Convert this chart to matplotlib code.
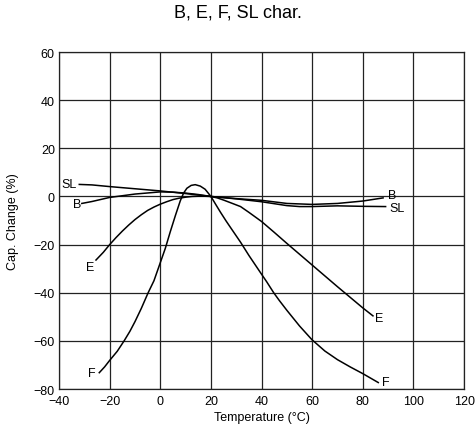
import matplotlib.pyplot as plt

plt.rcParams['font.family'] = ['Liberation Sans', 'DejaVu Sans']

# ── Data ───────────────────────────────────────────────────────────────────
B_X  = [-31, -27, -20, -10, 0, 5, 10, 15, 20, 30, 40, 50, 60, 70, 80, 88]
B_Y  = [-2.9, -2.1, -0.4, 1.0, 1.9, 1.8, 1.4, 0.8, 0, -0.9, -1.6, -2.9, -3.3, -2.9, -1.9, -0.6]

SL_X = [-32, -27, -20, -10, 0, 10, 20, 30, 40, 50, 55, 60, 70, 80, 89]
SL_Y = [5.0, 4.8, 4.1, 3.2, 2.3, 1.2, 0, -1.0, -2.2, -3.8, -4.2, -4.2, -3.9, -4.1, -4.2]

E_X  = [-25.4, -22.5, -20, -17.5, -15, -12.5, -10, -7.5, -5, -2.5, 0, 2.5, 5, 7.5, 10, 12.5, 15,
        17.5, 20, 22.5, 25, 28, 31.7, 35, 40, 45, 50, 55, 60, 65, 70, 75, 80, 84]
E_Y  = [-26.4, -23.2, -20.0, -17.1, -14.4, -11.9, -9.6, -7.6, -5.8, -4.4, -3.2, -2.2, -1.3, -0.7,
        -0.3, 0.0, 0.1, 0.1, 0, -0.6, -1.5, -2.7, -4.2, -6.6, -10.4, -14.9, -19.5, -24.0, -28.5,
        -33.0, -37.5, -41.9, -46.3, -49.6]

F_X  = [-24.1, -22, -20, -17, -14.3, -12, -10, -7.5, -4.8, -2.5, -0.7, 2, 3.9, 6, 7.9, 9.2, 10.5,
        12.2, 13.8, 15.8, 17.7, 20, 22, 23.8, 26, 28, 31.7, 35, 39.8, 42, 44.8, 47, 50, 55, 59.9,
        65, 70, 75, 80, 86.1]
F_Y  = [-73.2, -70.8, -68.1, -64.3, -60.0, -56.0, -52.0, -46.5, -40.0, -35.0, -29.6, -21.5, -14.8,
        -7.8, -1.8, 1.4, 3.4, 4.6, 4.9, 4.3, 3.0, 0, -3.5, -6.6, -10.2, -13.3, -19.0, -24.5, -32.0,
        -35.4, -40.0, -43.2, -47.3, -53.8, -59.5, -64.2, -67.8, -70.8, -73.6, -77.3]

# curve labels: (text, x, y)
LABELS = [('SL', -36, 5.0), ('B', -33, -3.0), ('E', -27.7, -29.3), ('F', -27.2, -73.2),
          ('B', 91.4, 0.5), ('SL', 93.4, -4.7), ('E', 86.5, -50.6), ('F', 89.2, -76.9)]

X_TICKS = [-40, -20, 0, 20, 40, 60, 80, 100, 120]
Y_TICKS = [-80, -60, -40, -20, 0, 20, 40, 60]

fig = plt.figure(figsize=(4.76, 4.31), dpi=100)
ax = fig.add_axes([0.124, 0.095, 0.851, 0.782])

for xs, ys in [(B_X, B_Y), (SL_X, SL_Y), (E_X, E_Y), (F_X, F_Y)]:
    ax.plot(xs, ys, color='black', lw=1.1, zorder=3, solid_joinstyle='round')

for txt, x, y in LABELS:
    ax.text(x, y, txt, ha='center', va='center', fontsize=9, zorder=4)

ax.set_xlim(-40, 120)
ax.set_ylim(-80, 60)
ax.set_xticks(X_TICKS)
ax.set_yticks(Y_TICKS)
ax.tick_params(length=0, labelsize=9)
ax.tick_params(axis='x', pad=4)
ax.tick_params(axis='y', pad=3)
ax.grid(True, color='#222222', lw=0.9)
for s in ax.spines.values():
    s.set_color('#222222')
    s.set_linewidth(0.9)

ax.set_xlabel('Temperature (°C)', fontsize=9, va='center')
ax.xaxis.set_label_coords(0.5, -0.083)
ax.set_ylabel('Cap. Change (%)', fontsize=9, va='center')
ax.yaxis.set_label_coords(-0.114, 0.5)
fig.text(0.5, 0.970, 'B, E, F, SL char.', ha='center', va='center', fontsize=13)

fig.savefig('out.png', dpi=100)
